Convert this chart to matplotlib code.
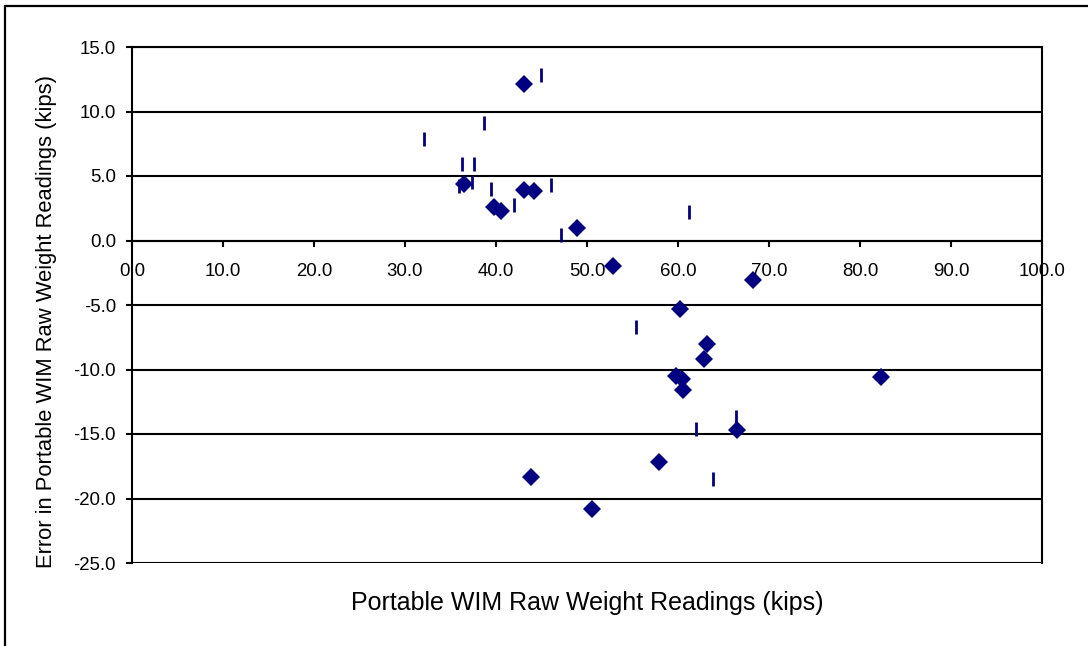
import matplotlib.pyplot as plt
from matplotlib.patches import Rectangle

plt.rcParams['font.family'] = ['Liberation Sans', 'DejaVu Sans']

# weight readings (kips) and their errors, diamond series
raw_x = [43.1, 36.5, 43.1, 44.2, 39.8, 40.5, 48.9, 52.9, 68.2, 60.2,
         63.2, 62.9, 59.8, 60.4, 60.5, 66.5, 57.9, 43.9, 50.6, 82.3]
raw_err = [12.1, 4.35, 3.9, 3.8, 2.6, 2.3, 1.0, -2.0, -3.1, -5.3,
           -8.0, -9.2, -10.5, -10.7, -11.6, -14.7, -17.2, -18.3, -20.8, -10.6]

# second series, drawn as short vertical bars
bar_x = [44.9, 38.7, 32.1, 36.3, 37.6, 35.9, 37.4, 39.4, 46.0, 42.0,
         47.1, 61.2, 55.4, 62.0, 66.4, 63.8]
bar_err = [12.85, 9.1, 7.9, 5.9, 5.9, 4.2, 4.5, 4.0, 4.3, 2.75,
           0.45, 2.2, -6.7, -14.6, -13.7, -18.5]

x_ticks = [0, 10, 20, 30, 40, 50, 60, 70, 80, 90, 100]
y_ticks = [-25, -20, -15, -10, -5, 0, 5, 10, 15]

W, H = 1088, 646
fig = plt.figure(figsize=(W / 100, H / 100), dpi=100)
ax = fig.add_axes([132 / W, 1 - 563 / H, (1042 - 132) / W, (563 - 47) / H])

navy = '#000080'
ax.plot(bar_x, bar_err, linestyle='none', marker='|', markersize=10,
        markeredgewidth=2.0, color=navy, zorder=3)
ax.plot(raw_x, raw_err, linestyle='none', marker='D', markersize=9.3,
        markeredgewidth=0, color=navy, zorder=4)

ax.set_xlim(0, 100)
ax.set_ylim(-25, 15)
ax.set_xticks(x_ticks)
ax.set_yticks(y_ticks)
ax.set_xticklabels([f'{v:.1f}' for v in x_ticks])
ax.set_yticklabels([f'{v:.1f}' for v in y_ticks])

ax.yaxis.grid(True, color='black', linewidth=1.5)
ax.set_axisbelow(True)

for side in ['left', 'right', 'top', 'bottom']:
    ax.spines[side].set_linewidth(1.5)
    ax.spines[side].set_color('black')
ax.spines['bottom'].set_position(('data', 0))

ax.tick_params(axis='both', direction='out', length=4.5, width=1.5,
               colors='black', labelsize=13.4)
ax.tick_params(axis='x', pad=12)
ax.tick_params(axis='y', pad=7)

fig.text(587 / W, 1 - 603 / H, 'Portable WIM Raw Weight Readings (kips)',
         ha='center', va='center', fontsize=18)
fig.text(47 / W, 1 - 321 / H, 'Error in Portable WIM Raw Weight Readings (kips)',
         ha='center', va='center', rotation=90, fontsize=15.8)

# outer frame, only left and top edges fall inside the image
fig.patches.append(Rectangle((4.5 / W, -0.5), 2, 0.5 + 1 - 6 / H, fill=False,
                             edgecolor='black', linewidth=1.6,
                             transform=fig.transFigure))

fig.savefig('out.png', dpi=100)
